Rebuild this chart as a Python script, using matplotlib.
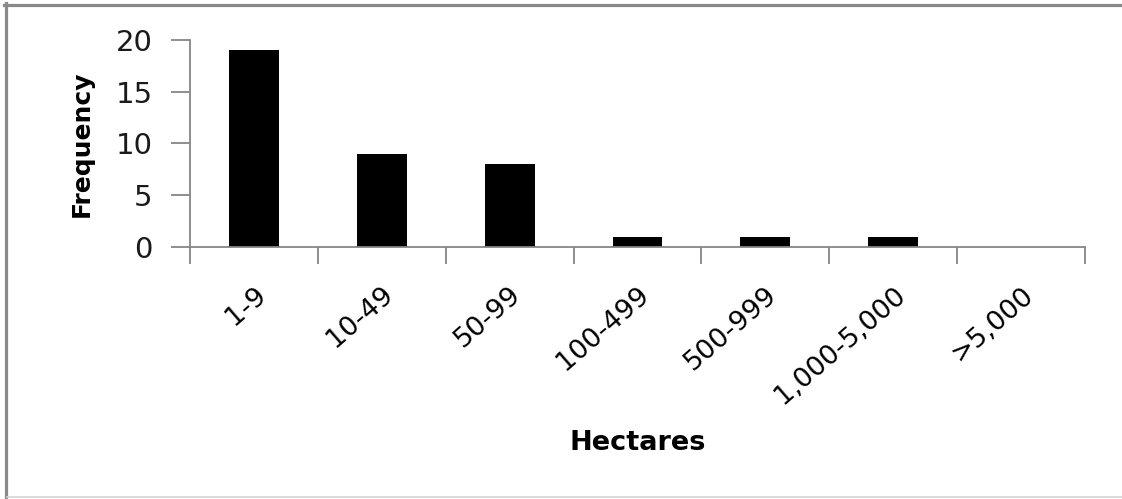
import matplotlib.pyplot as plt
from matplotlib.lines import Line2D
import numpy as np

plt.rcParams['font.family'] = ['DejaVu Sans']

categories = ['1-9', '10-49', '50-99', '100-499', '500-999', '1,000-5,000', '>5,000']
frequency = [19, 9, 8, 1, 1, 1, 0]

W, H = 1122, 499
fig = plt.figure(figsize=(W / 100, H / 100), dpi=100)
ax = fig.add_axes([190/W, 1-247/H, (1085-190)/W, (247-40)/H])

x = np.arange(len(categories))
ax.bar(x, frequency, width=0.39, color='black')

ax.set_xlim(-0.5, len(categories) - 0.5)
ax.set_ylim(0, 20)
ax.set_yticks([0, 5, 10, 15, 20])
# category boundaries get the tick marks, labels sit at the centers
ax.set_xticks(np.arange(-0.5, len(categories)))
ax.set_xticklabels([])
ax.set_xticks(x, minor=True)
ax.set_xticklabels(categories, minor=True, rotation=41, ha='right',
                   rotation_mode='anchor', fontsize=19.5)
ax.tick_params(axis='x', which='minor', length=0, pad=25)
ax.tick_params(axis='x', which='major', length=12, color='#868686', width=1.3)
ax.tick_params(axis='y', length=14, color='#868686', width=1.3,
               labelsize=21, pad=13, labelcolor='#1a1a1a')

for s in ['top', 'right']:
    ax.spines[s].set_visible(False)
for s in ['left', 'bottom']:
    ax.spines[s].set_color('#868686')
    ax.spines[s].set_linewidth(1.3)

fig.text(82/W, 1-144/H, 'Frequency', rotation=90, fontsize=18,
         fontweight='bold', ha='center', va='center')
fig.text(638/W, 1-443/H, 'Hectares', fontsize=19.5,
         fontweight='bold', ha='center', va='center')

# chart frame: dark top and left edge, light bottom edge, no right edge
fig.lines.append(Line2D([4/W, 1], [1-4.5/H, 1-4.5/H], transform=fig.transFigure,
                        color='#8a8a8a', linewidth=2.3))
fig.lines.append(Line2D([5.5/W, 5.5/W], [1-3/H, 1/H], transform=fig.transFigure,
                        color='#8a8a8a', linewidth=2.3))
fig.lines.append(Line2D([7/W, 1], [1-497/H, 1-497/H], transform=fig.transFigure,
                        color='#d4d4d4', linewidth=1.2))

fig.savefig('out.png', dpi=100)
